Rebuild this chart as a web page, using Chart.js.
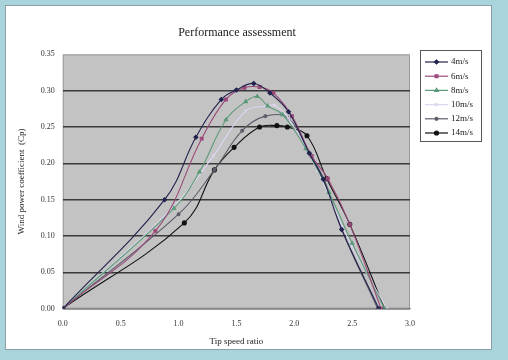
<!DOCTYPE html>
<html><head><meta charset="utf-8">
<script src="https://cdn.jsdelivr.net/npm/chart.js@4"></script>
<style>
html,body{margin:0;padding:0;background:#a9d4dc;}
#wrap{position:absolute;left:0;top:0;width:508px;height:360px;}
#panel{position:absolute;left:5px;top:5px;width:485px;height:343px;background:#fff;border:1px solid #8a9fa5;}
canvas{position:absolute;left:0;top:0;}
</style></head><body>
<div id="wrap"><div id="panel"></div><canvas id="c" width="508" height="360"></canvas></div>
<script>
const seriesNames = ["4m/s","6m/s","8m/s","10m/s","12m/s","14m/s"];
const xTicks = [0,0.5,1.0,1.5,2.0,2.5,3.0];
const yTicks = [0,0.05,0.10,0.15,0.20,0.25,0.30,0.35];
const s4x  = [0,0.88,1.15,1.37,1.50,1.65,1.79,1.95,2.13,2.25,2.41,2.73];
const s4y  = [0,0.150,0.236,0.288,0.301,0.310,0.297,0.271,0.214,0.178,0.109,0];
const s6x  = [0,0.80,1.20,1.41,1.57,1.70,1.82,1.98,2.15,2.29,2.48,2.75];
const s6y  = [0,0.107,0.234,0.288,0.304,0.305,0.297,0.265,0.210,0.179,0.116,0];
const s8x  = [0,0.96,1.18,1.41,1.58,1.68,1.77,1.90,2.10,2.30,2.50,2.78];
const s8y  = [0,0.138,0.188,0.260,0.285,0.292,0.279,0.267,0.220,0.160,0.090,0];
const s10x = [0,0.95,1.30,1.58,1.76,1.83,1.95,2.20,2.50,2.80];
const s10y = [0,0.139,0.210,0.272,0.279,0.280,0.262,0.190,0.085,0];
const s12x = [0,1.00,1.31,1.55,1.75,1.95,2.13,2.26,2.41,2.72];
const s12y = [0,0.130,0.191,0.245,0.265,0.262,0.214,0.177,0.109,0];
const s14x = [0,1.05,1.31,1.48,1.70,1.85,1.94,2.11,2.28,2.48,2.78];
const s14y = [0,0.118,0.191,0.222,0.250,0.252,0.250,0.238,0.179,0.116,0];

const xs = [s4x,s6x,s8x,s10x,s12x,s14x];
const ys = [s4y,s6y,s8y,s10y,s12y,s14y];
const colors = ["#22224e","#9a4a7a","#5a9a78","#dcd6f0","#5c5c6a","#111111"];
const markers = ["rectRot","rect","triangle","crossRot","star","circle"];

const datasets = seriesNames.map((n,i)=>({
  label:n,
  data: xs[i].map((x,j)=>({x:x,y:ys[i][j]})),
  borderColor:colors[i], backgroundColor:colors[i],
  borderWidth:1.1, pointRadius:2, pointHoverRadius:2,
  pointStyle:markers[i], tension:0.4, fill:false
}));

const serif = "'Liberation Serif','DejaVu Serif',serif";

const deco = {
  id:'deco',
  beforeDraw(chart){
    const {ctx,chartArea:a}=chart;
    ctx.save();
    ctx.fillStyle='#c3c3c3';
    ctx.fillRect(a.left,a.top,a.right-a.left,a.bottom-a.top);
    ctx.strokeStyle='#9a9a9a'; ctx.lineWidth=1;
    ctx.strokeRect(a.left+0.5,a.top+0.5,a.right-a.left-1,a.bottom-a.top-1);
    ctx.restore();
  },
  afterDraw(chart){
    const ctx=chart.ctx;
    const bx=420,by=50,bw=62,bh=92;
    ctx.save();
    ctx.fillStyle='#fff'; ctx.fillRect(bx,by,bw,bh);
    ctx.strokeStyle='#555'; ctx.lineWidth=1;
    ctx.strokeRect(bx+0.5,by+0.5,bw-1,bh-1);
    ctx.font="9px "+serif; ctx.textBaseline='middle'; ctx.textAlign='left';
    chart.data.datasets.forEach((ds,i)=>{
      const y=by+12+i*14.2;
      ctx.strokeStyle=ds.borderColor; ctx.lineWidth=1.2;
      ctx.beginPath(); ctx.moveTo(bx+5,y); ctx.lineTo(bx+28,y); ctx.stroke();
      ctx.fillStyle=ds.backgroundColor;
      Chart.helpers.drawPoint(ctx,{pointStyle:ds.pointStyle,radius:2,borderWidth:1},bx+16.5,y);
      ctx.fillStyle='#222';
      ctx.fillText(ds.label,bx+31,y);
    });
    ctx.restore();
  }
};

new Chart(document.getElementById('c'),{
  type:'line',
  data:{datasets},
  plugins:[deco],
  options:{
    responsive:false, animation:false,
    layout:{padding:{left:12,right:46,top:18,bottom:13}},
    plugins:{
      title:{display:true,text:'Performance assessment',color:'#222',
        font:{family:serif,size:12,weight:'normal'},padding:{top:8,bottom:14}},
      legend:{display:false},
      tooltip:{enabled:false}
    },
    scales:{
      x:{type:'linear',min:0,max:3,
        afterBuildTicks(ax){ax.ticks=xTicks.map(v=>({value:v}));},
        ticks:{font:{family:serif,size:8},color:'#333',callback:v=>v.toFixed(1),padding:11},
        grid:{display:false,drawTicks:false},
        border:{color:'#888'},
        title:{display:true,text:'Tip speed ratio',font:{family:serif,size:9},color:'#222',padding:{top:-4,bottom:0}}
      },
      y:{min:0,max:0.35,
        afterBuildTicks(ax){ax.ticks=yTicks.map(v=>({value:v}));},
        ticks:{font:{family:serif,size:8},color:'#333',callback:v=>v.toFixed(2),padding:8},
        grid:{color:c=>(c.tick&&c.tick.value>0.34)?'rgba(0,0,0,0)':'#3a3a3a',lineWidth:1.5,drawTicks:false},
        border:{display:false},
        title:{display:true,text:'Wind power coefficient  (Cp)',font:{family:serif,size:9},color:'#222',padding:{bottom:6}}
      },
      yR:{position:'right',display:true,min:0,max:1,
        grid:{display:false,drawTicks:false},border:{display:false},
        ticks:{display:false},
        afterFit(ax){ax.width=52;}
      }
    }
  }
});
</script></body></html>
